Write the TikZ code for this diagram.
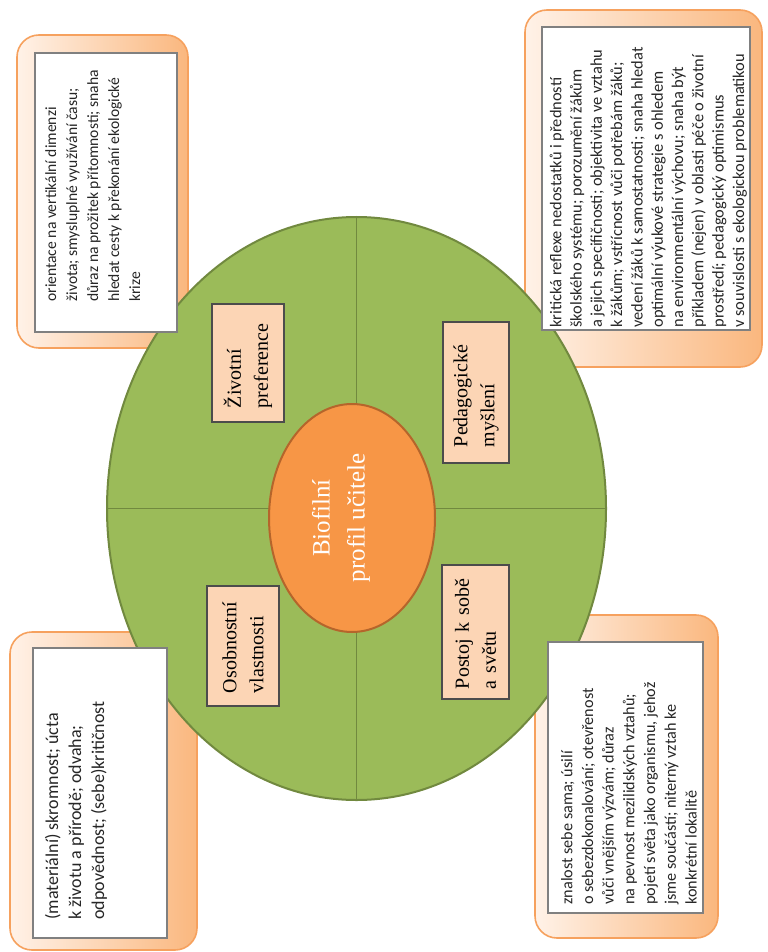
\documentclass[tikz,border=0pt]{standalone}
\usepackage{fontspec}
\setmainfont{Liberation Serif}
\newfontfamily\calibri{Carlito}
\usepackage{tikz}
\usetikzlibrary{shapes.geometric}

\definecolor{leafgreen}{HTML}{9BBB59}
\definecolor{leafdark}{HTML}{71893F}
\definecolor{corefill}{HTML}{F79646}
\definecolor{coreline}{HTML}{B5652B}
\definecolor{peach}{HTML}{FCD5B5}
\definecolor{peachlight}{HTML}{FFF2E8}
\definecolor{peachdark}{HTML}{FAB77E}
\definecolor{peachline}{HTML}{F6A15E}

\begin{document}
\begin{tikzpicture}[x=0.5pt,y=0.5pt,
  tab/.style={rectangle,rounded corners=11pt,draw=peachline,line width=0.8pt,
    left color=peachlight,right color=peachdark,inner sep=0pt},
  sheet/.style={rectangle,draw=black!50,fill=white,line width=0.6pt,inner sep=0pt},
  % placed by the baseline of the last line
  note/.style={rotate=90,anchor=base west,inner sep=0pt,align=left,text=black!85},
  quarter/.style={rectangle,draw=black!70,fill=peach,line width=0.6pt,rotate=90,
    align=left,inner ysep=0pt,font=\fontsize{10}{13.5}\selectfont}]
\useasboundingbox (0,0) rectangle (767,-952);

% orange tabs behind the circle
\node[tab,minimum width=85.5pt,minimum height=156.5pt] (tabTL) at (102.5,-191.5) {};
\node[tab,minimum width=118.5pt,minimum height=178.5pt] (tabTR) at (643.5,-188.5) {};
\node[tab,minimum width=93.5pt,minimum height=159pt] (tabBL) at (103.5,-791) {};
\node[tab,minimum width=91.5pt,minimum height=161.5pt] (tabBR) at (626.5,-776.5) {};

% big ellipse and its quarters
\node[ellipse,draw=leafdark,line width=1pt,fill=leafgreen,inner sep=0pt,outer sep=0pt,
  minimum width=249.5pt,minimum height=291.5pt] (leaf) at (356.5,-508.5) {};
\draw[leafdark,line width=0.9pt] (leaf.north) -- (leaf.south);
\draw[leafdark,line width=0.9pt] (leaf.west) -- (leaf.east);

% white sheets with the descriptions
\node[sheet,minimum width=71pt,minimum height=139.5pt] (sheetTL) at (106,-192.5) {};
\node[sheet,minimum width=104pt,minimum height=151.5pt] (sheetTR) at (646,-178.5) {};
\node[sheet,minimum width=67pt,minimum height=145pt] (sheetBL) at (100,-793) {};
\node[sheet,minimum width=77.5pt,minimum height=135.5pt] (sheetBR) at (625.5,-777.5) {};

\node[note,font={\fontsize{7.8}{10.5}\selectfont\calibri}] (noteTL) at (140,-302)
  {orientace na vertikální dimenzi\\
   života; smysluplné využívání času;\\
   důraz na prožitek přítomnosti; snaha\\
   hledat cesty k překonání ekologické\\
   krize};
\node[note,font={\fontsize{8.2}{10.15}\selectfont\calibri}] (noteTR) at (744,-328)
  {kritická reflexe nedostatků i předností\\
   školského systému; porozumění žákům\\
   a jejich specifičnosti; objektivita ve vztahu\\
   k žákům; vstřícnost vůči potřebám žáků;\\
   vedení žáků k samostatnosti; snaha hledat\\
   optimální výukové strategie s ohledem\\
   na environmentální výchovu; snaha být\\
   příkladem (nejen) v oblasti péče o životní\\
   prostředí; pedagogický optimismus\\
   v souvislosti s ekologickou problematikou};
\node[note,font={\fontsize{9}{11.5}\selectfont\calibri}] (noteBL) at (104,-920)
  {(materiální) skromnost; úcta\\
   k životu a přírodě; odvaha;\\
   odpovědnost; (sebe)kritičnost};
\node[note,font={\fontsize{8.1}{10.35}\selectfont\calibri}] (noteBR) at (696.5,-905)
  {znalost sebe sama; úsilí\\
   o sebezdokonalování; otevřenost\\
   vůči vnějším výzvám; důraz\\
   na pevnost mezilidských vztahů;\\
   pojetí světa jako organismu, jehož\\
   jsme součástí; niterný vztah ke\\
   konkrétní lokalitě};

% four labels inside the quarters
\node[quarter,text width=45pt,inner xsep=7pt,minimum height=36pt] (life) at (248,-363)
  {Životní\\preference};
\node[quarter,text width=54.5pt,inner xsep=8pt,minimum height=33pt] (school) at (476,-392.5)
  {Pedagogické\\myšlení};
\node[quarter,text width=47pt,inner xsep=6.5pt,minimum height=36pt] (person) at (243,-646)
  {Osobnostní\\vlastnosti};
\node[quarter,text width=57pt,inner xsep=5pt,minimum height=33.5pt] (world) at (475.5,-632)
  {Postoj k sobě\\a světu};

% centre
\node[ellipse,draw=coreline,line width=1pt,fill=corefill,inner sep=0pt,
  minimum width=83pt,minimum height=114pt] (core) at (352,-518) {};
\node[rotate=90,align=center,text=white,inner sep=0pt,
  font=\fontsize{12.5}{17.5}\selectfont] (coretext) at (341,-518)
  {Biofilní\\profil učitele};

\end{tikzpicture}
\end{document}
